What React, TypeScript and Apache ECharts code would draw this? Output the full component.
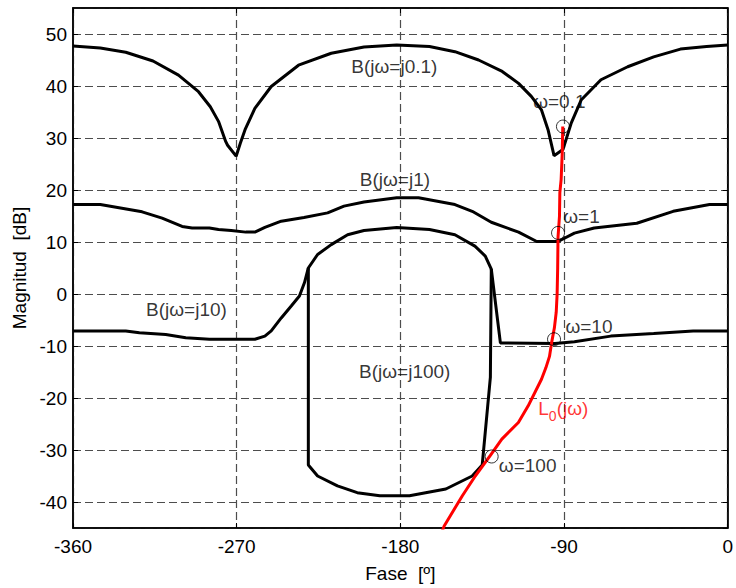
import React, { useEffect, useRef } from "react";
import * as echarts from "echarts";

// Phase axis ticks (degrees) and magnitude range (dB)
const phaseTicks = [-360, -270, -180, -90, 0];
const magRange = [-45, 55];

// B(jω=j0.1) boundary
const b01: [number, number][] = [
  [-360, 47.7], [-345, 47.3], [-331, 46.5], [-316, 44.8], [-302, 42.1], [-291, 38.9],
  [-284.5, 36.0], [-280, 33.2], [-276, 29.3], [-275, 28.6], [-270.3, 26.5], [-268, 29.0],
  [-265.4, 31.6], [-260, 35.7], [-251, 39.9], [-236, 44.0], [-218, 46.3], [-200, 47.5],
  [-182, 47.9], [-164, 47.6], [-150, 46.6], [-137, 45.0], [-124, 42.8], [-115, 40.5],
  [-108, 38.0], [-102.4, 35.4], [-98.8, 31.6], [-95.5, 26.6], [-90.6, 27.8], [-86, 32.9],
  [-80.6, 37.3], [-69.7, 41.2], [-55, 43.7], [-40.7, 45.6], [-26, 47.1], [-11.6, 47.6],
  [0, 47.9],
];

// B(jω=j1) boundary
const b1: [number, number][] = [
  [-360, 17.2], [-345, 17.2], [-322, 15.8], [-311, 14.6], [-300, 13.0], [-294.5, 12.7],
  [-285, 12.7], [-280, 12.4], [-273, 12.2], [-265, 11.9], [-260, 11.9], [-254.5, 12.8],
  [-245.5, 14.0], [-233, 14.7], [-220, 15.6], [-211, 16.9], [-200, 17.7], [-182, 18.5],
  [-170, 18.5], [-150, 17.2], [-140.5, 15.9], [-130, 13.8], [-115, 11.9], [-105, 10.1],
  [-93.3, 10.1], [-84.3, 11.7], [-73.4, 12.7], [-50, 13.6], [-30, 15.9], [-10, 17.2],
  [0, 17.2],
];

// B(jω=j10) boundary
const b10: [number, number][] = [
  [-360, -7.1], [-331, -7.1], [-323.5, -7.45], [-309, -7.8], [-298, -8.4], [-285, -8.7],
  [-260, -8.7], [-254.5, -8.1], [-251, -7.1], [-245.5, -4.6], [-240, -2.3], [-235.5, -0.4],
  [-232.7, 2.2], [-230.6, 5.0], [-225.5, 7.6], [-218, 9.5], [-209, 11.4], [-200, 12.2],
  [-182, 12.8], [-164, 12.4], [-150, 11.4], [-139, 9.2], [-133.3, 7.3], [-130, 4.8],
  [-125, -9.4], [-95, -9.5], [-84.3, -9.2], [-64.3, -8.1], [-40.7, -7.6], [-19, -7.1],
  [0, -7.1],
];

// B(jω=j100) boundary (lower part of the closed contour)
const b100: [number, number][] = [
  [-230.6, 5.0], [-230.6, -32.9], [-225.5, -35.0], [-214.6, -36.9], [-203.7, -38.2],
  [-191.3, -38.8], [-175, -38.8], [-155, -37.5], [-140.5, -35.0], [-135, -32.9],
  [-130.5, -16.0], [-130, 4.8],
];

// Open-loop L0(jω)
const l0: [number, number][] = [
  [-90.7, 32.2], [-91.0, 27.0], [-91.6, 22.0], [-92.3, 19.5], [-92.5, 15.0], [-93.3, 11.0],
  [-93.5, 5.0], [-93.8, 0.0], [-94.3, -3.5], [-95.3, -6.5], [-96.8, -9.3], [-98, -12.0],
  [-100, -14.2], [-102.4, -16.4], [-109.7, -21.5], [-115.1, -24.7], [-124.2, -27.9],
  [-130.6, -31.1], [-138.8, -35.0], [-145.9, -38.8], [-155.9, -44.6], [-158, -46.5],
];

// Frequency markers on L0
const omegaPts: [number, number][] = [
  [-90.6, 32.2], [-93.3, 11.75], [-95.5, -8.7], [-129.8, -31.25],
];

// Annotation texts and their positions (deg, dB)
const annTexts = [
  "B(jω=j0.1)", "B(jω=j1)", "B(jω=j10)", "B(jω=j100)",
  "ω=0.1", "ω=1", "ω=10", "ω=100",
];
const annPos: [number, number][] = [
  [-183.3, 43.7], [-183, 22.0], [-297.6, -3.0], [-177.6, -14.9],
  [-92.6, 37.1], [-80.4, 14.9], [-76.3, -6.2], [-110, -32.9],
];
const l0LabelPos: [number, number] = [-90.4, -22.4];

const FONT = "'Liberation Sans', Arial, Helvetica, sans-serif";
const FS = 19;

export default function App() {
  const ref = useRef<HTMLDivElement>(null);
  useEffect(() => {
    if (!ref.current) return;
    const chart = echarts.init(ref.current, undefined, { renderer: "svg" });
    const dashed = { show: true, lineStyle: { color: "#4d4d4d", type: [8, 4] as any, width: 1.2 } };
    const lineS = (data: [number, number][], color = "#000") => ({
      type: "line",
      data,
      showSymbol: false,
      symbol: "none",
      lineStyle: { color, width: 3 },
      clip: true,
      z: 3,
    });
    const frame = { show: true, onZero: false, lineStyle: { color: "#000", width: 1.5 } };
    const tick = { show: true, inside: true, length: 5, lineStyle: { color: "#000" } };
    chart.setOption({
      animation: false,
      textStyle: { fontFamily: FONT },
      grid: {
        left: 73, right: 2, top: 8, bottom: 60,
        show: true, borderColor: "#000", borderWidth: 1.5, backgroundColor: "#fff",
      },
      xAxis: [
        {
          type: "value",
          min: phaseTicks[0], max: phaseTicks[phaseTicks.length - 1], interval: 90,
          position: "bottom",
          axisLine: frame,
          axisTick: tick,
          axisLabel: { color: "#000", fontSize: FS, margin: 9, fontFamily: FONT },
          splitLine: dashed,
          name: "Fase  [º]",
          nameLocation: "middle",
          nameGap: 36,
          nameTextStyle: { color: "#000", fontSize: FS, fontFamily: FONT },
        },
        {
          type: "value",
          min: phaseTicks[0], max: phaseTicks[phaseTicks.length - 1], interval: 90,
          position: "top",
          axisLine: frame,
          axisTick: tick,
          axisLabel: { show: false },
          splitLine: { show: false },
        },
      ],
      yAxis: [
        {
          type: "value",
          min: magRange[0], max: magRange[1], splitNumber: 10,
          position: "left",
          axisLine: frame,
          axisTick: tick,
          axisLabel: { color: "#000", fontSize: FS, margin: 6, fontFamily: FONT, showMinLabel: false, showMaxLabel: false },
          splitLine: dashed,
          name: "Magnitud  [dB]",
          nameLocation: "middle",
          nameGap: 42,
          nameTextStyle: { color: "#000", fontSize: FS, fontFamily: FONT },
        },
        {
          type: "value",
          min: magRange[0], max: magRange[1], splitNumber: 10,
          position: "right",
          axisLine: frame,
          axisTick: tick,
          axisLabel: { show: false },
          splitLine: { show: false },
        },
      ],
      series: [
        lineS(b01),
        lineS(b1),
        lineS(b10),
        lineS(b100),
        lineS(l0, "#ff0000"),
        {
          type: "scatter",
          data: omegaPts,
          symbol: "circle",
          symbolSize: 13,
          itemStyle: { color: "rgba(0,0,0,0)", borderColor: "#000", borderWidth: 1 },
          z: 4,
        },
        {
          type: "scatter",
          symbolSize: 1,
          itemStyle: { color: "rgba(0,0,0,0)" },
          z: 5,
          data: annTexts.map((t, i) => ({
            value: annPos[i],
            label: {
              show: true, position: "inside", formatter: t,
              color: "#000", fontSize: FS, fontFamily: FONT,
            },
          })).concat([
            {
              value: l0LabelPos,
              label: {
                show: true, position: "inside",
                formatter: "{a|L}{b|0}{a|(jω)}",
                rich: {
                  a: { color: "#ff0000", fontSize: FS, fontFamily: FONT, verticalAlign: "top", lineHeight: 22 },
                  b: { color: "#ff0000", fontSize: 14, fontFamily: FONT, verticalAlign: "top", lineHeight: 22, padding: [10, 0, 0, 0] },
                },
              } as any,
            },
          ]),
        },
      ],
    });
    return () => chart.dispose();
  }, []);
  return (
    <div
      ref={ref}
      style={{ position: "fixed", left: 0, top: 0, width: 736, height: 588, background: "#fff" }}
    />
  );
}
